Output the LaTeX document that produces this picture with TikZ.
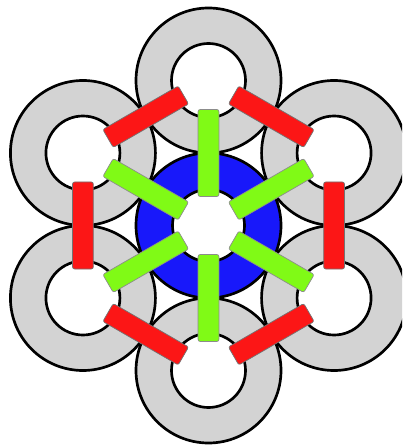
\documentclass[tikz,border=0pt]{standalone}
\usepackage{tikz}
\usetikzlibrary{calc}
\definecolor{cRing}{RGB}{211,211,211}
\definecolor{cHub}{RGB}{24,24,250}
\definecolor{cRed}{RGB}{252,22,22}
\definecolor{cLime}{RGB}{128,250,22}
\tikzset{
	ring/.style   ={draw=black, line width=1.9pt, fill=cRing, even odd rule},
	hub/.style    ={draw=black, line width=1.9pt, fill=cHub, even odd rule},
	% connecting bars
	bar/.style    ={rectangle, rounded corners=1.5pt, minimum width=2.175cm, minimum height=0.52cm, inner sep=0pt, line width=0.5pt},
	redbar/.style ={bar, draw=black!55, fill=cRed},
	limebar/.style={bar, draw=black!45, fill=cLime},
}

\begin{document}
\begin{tikzpicture}[x=0.025cm, y=0.025cm]
	\useasboundingbox (-208.5,-219.5) rectangle (193.5,225.5);
	\clip (-208.5,-219.5) rectangle (193.5,225.5);
	\coordinate (hubc) at (0,0);
	% outer rings
	\foreach \a [count=\i] in {90,30,-30,-90,-150,150}
		\coordinate (r\i) at (\a:145);
	\foreach \i in {1,...,6}
		\draw[ring] (r\i) circle (72.5) (r\i) circle (37);
	% hub
	\draw[hub] (hubc) circle (72.5) (hubc) circle (36);
	% spokes hub -- ring
	\foreach \a [count=\i] in {90,30,-30,-90,-150,150}
		\node[limebar, rotate=\a] (g\i) at ($(hubc)!0.5!(r\i)$) {};
	% bars ring -- ring
	\foreach \a [count=\i] in {90,30,-30,-90,-150,150}{
		\pgfmathtruncatemacro\j{mod(\i,6)+1}
		\node[redbar, rotate=\a-120] (b\i) at ($(r\i)!0.5!(r\j)$) {};
	}
\end{tikzpicture}
\end{document}
